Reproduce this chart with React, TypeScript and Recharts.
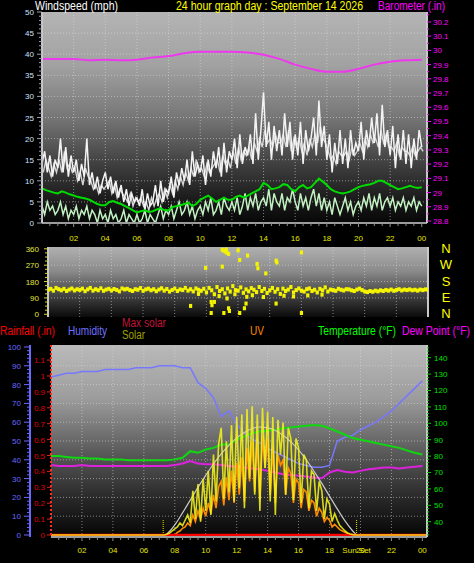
import React from 'react';
import {
  LineChart, Line, XAxis, YAxis, CartesianGrid, ReferenceLine,
  ScatterChart, Scatter,
} from 'recharts';

const FONT = '"Liberation Sans", Arial, Helvetica, sans-serif';

// ---------- top panel: wind (mph), 10-minute steps 00:00 .. 24:00
const gustMph = [
  14, 17, 12, 16, 11, 15, 13, 20, 12, 18, 11, 16, 12, 15, 10, 14, 11, 20,
  9, 12, 8, 11, 7, 10, 12, 8, 11, 7, 10, 6, 9, 5, 8, 4, 7, 5,
  6, 4, 8, 3, 7, 4, 5, 9, 4, 10, 5, 8, 7, 11, 6, 12, 9, 13,
  10, 15, 9, 17, 11, 14, 12, 16, 9, 15, 11, 17, 13, 18, 11, 19, 12, 17,
  15, 20, 13, 21, 14, 18, 16, 21, 14, 26, 15, 22, 31, 18, 24, 15, 23, 17,
  22, 16, 26, 18, 24, 15, 21, 16, 24, 14, 22, 17, 20, 25, 16, 29, 18, 23,
  15, 21, 12, 19, 14, 22, 14, 20, 13, 22, 16, 19, 17, 24, 15, 22, 18, 25,
  19, 26, 16, 28, 18, 22, 16, 23, 13, 21, 15, 22, 14, 21, 13, 20, 15, 22,
  18,
];
// second (10-minute high) white trace, 10-minute steps starting 00:05
const gustHighMph = [
  12, 15, 13, 11, 14, 12, 15, 12, 17, 13, 14, 12, 13, 10, 12, 9, 13, 11,
  10, 8, 9, 7, 9, 8, 9, 10, 7, 9, 6, 8, 7, 6, 5, 7, 4, 6,
  5, 6, 4, 5, 3, 6, 4, 6, 7, 5, 8, 6, 9, 7, 10, 8, 11, 9,
  12, 10, 13, 11, 15, 12, 13, 11, 14, 12, 13, 14, 15, 12, 16, 14, 15, 13,
  17, 14, 18, 15, 17, 16, 18, 15, 19, 17, 20, 18, 22, 19, 20, 18, 21, 19,
  19, 21, 18, 22, 17, 20, 18, 20, 17, 19, 16, 20, 18, 21, 19, 23, 20, 19,
  17, 15, 16, 14, 17, 16, 16, 17, 15, 18, 16, 17, 19, 17, 20, 18, 21, 19,
  20, 18, 22, 19, 21, 18, 18, 17, 19, 16, 18, 17, 17, 16, 18, 16, 17, 18,
  17,
];
const speedMph = [
  4, 2, 5, 3, 4, 2, 3, 5, 2, 4, 1, 3, 2, 4, 1, 3, 2, 4,
  1, 3, 2, 0, 3, 1, 2, 0, 3, 1, 2, 0, 1, 3, 0, 2, 1, 0,
  2, 0, 1, 3, 0, 2, 1, 0, 2, 4, 1, 3, 2, 4, 1, 3, 5, 2,
  3, 5, 2, 4, 1, 3, 4, 2, 5, 3, 6, 2, 3, 5, 2, 6, 4, 3,
  5, 3, 6, 2, 4, 7, 3, 6, 4, 7, 3, 5, 6, 4, 8, 3, 7, 5,
  4, 7, 3, 6, 5, 8, 5, 3, 7, 4, 6, 3, 6, 8, 4, 7, 3, 6,
  3, 5, 2, 6, 4, 2, 4, 6, 3, 5, 2, 4, 5, 3, 6, 4, 7, 3,
  6, 4, 7, 3, 5, 6, 4, 6, 3, 5, 4, 6, 3, 5, 4, 6, 3, 5,
  4,
];
// 15-minute steps
const avgMph = [
  8.2, 7.8, 7.5, 7.2, 7.0, 7.5, 7.2, 6.8, 6.5, 6.2, 6.0, 5.8,
  5.5, 5.0, 4.5, 4.2, 4.2, 5.0, 5.2, 4.8, 4.5, 4.0, 3.5, 3.0,
  2.5, 2.8, 3.0, 2.6, 2.8, 3.2, 3.5, 3.0, 3.0, 3.8, 4.0, 4.2,
  4.5, 4.8, 4.0, 4.5, 5.5, 6.0, 6.5, 5.8, 5.0, 5.5, 6.0, 5.5,
  5.5, 6.2, 6.5, 6.0, 6.5, 7.0, 7.5, 8.0, 9.5, 9.0, 8.0, 8.2,
  8.5, 9.2, 9.0, 8.0, 7.5, 8.5, 9.0, 8.2, 8.5, 9.5, 10.5, 9.8,
  9.0, 8.0, 7.5, 7.2, 7.0, 7.2, 7.5, 8.0, 8.5, 8.8, 9.0, 9.2,
  9.5, 10.0, 10.0, 9.5, 9.0, 8.5, 8.0, 8.2, 8.5, 8.8, 8.5, 8.3,
  8.5,
];
// hourly barometer (in)
const baroIn = [
  29.94, 29.94, 29.94, 29.93, 29.935, 29.93, 29.935, 29.95, 29.96, 29.98,
  29.99, 29.99, 29.99, 29.985, 29.97, 29.94, 29.9, 29.87, 29.85, 29.85,
  29.87, 29.9, 29.92, 29.93, 29.935,
];

// ---------- middle panel: wind direction (deg), 10-minute steps
const dirMainDeg = [
  135, 140, 130, 145, 138, 132, 140, 128, 136, 142, 131, 138,
  134, 141, 127, 137, 145, 130, 138, 132, 143, 129, 136, 140,
  131, 139, 134, 126, 142, 137, 140, 133, 128, 138, 135, 144,
  129, 137, 141, 132, 138, 127, 136, 143, 130, 139, 125, 134,
  141, 128, 137, 133, 145, 130, 138, 126, 142, 135, 129, 140,
  120, 145, 132, 110, 150, 128, 138, 115, 142, 125, 155, 133,
  130, 148, 118, 137, 126, 144, 135, 122, 150, 128, 140, 117,
  132, 145, 124, 138, 112, 141, 128, 136, 150, 120, 133, 142,
  130, 125, 138, 142, 128, 135, 120, 140, 132, 148, 125, 136,
  133, 129, 140, 135, 131, 138, 137, 132, 128, 136, 141, 133,
  125, 122, 128, 124, 130, 126, 132, 128, 134, 130, 136, 129,
  134, 138, 131, 136, 133, 137, 132, 135, 130, 136, 133, 137,
  135,
];
const dirOutHour = [
  11.0, 11.1, 11.2, 11.3, 11.4, 11.25, 12.0, 12.6, 12.1, 13.2, 13.25, 14.4,
  14.45, 16.0, 9.95, 11.0, 13.75, 9.0, 10.3, 10.5, 10.35, 11.4, 11.1, 11.45,
  10.3, 12.1, 12.4, 12.5, 14.4, 16.0, 12.55, 11.3, 10.8, 12.9, 13.6, 14.9,
  15.5, 11.8, 9.5, 16.4, 17.3,
];
const dirOutDeg = [
  355, 350, 345, 338, 332, 356, 352, 323, 299, 277, 253, 295,
  285, 340, 255, 262, 225, 46, 68, 68, 50, 33, 7, 18,
  7, 7, 33, 59, 59, 7, 96, 87, 100, 105, 95, 102,
  98, 110, 112, 104, 108,
];

// ---------- bottom panel, 30-minute steps 00:00 .. 24:00
const humidityPct = [
  84, 85, 86, 86, 87, 87, 87, 88, 88, 88,
  88, 89, 89, 89, 90, 90, 90, 89, 89, 81,
  78, 73, 63, 66, 59, 54, 51, 49, 46, 44,
  42, 40, 38, 37, 36, 36, 37, 50, 52, 53,
  56, 58, 60, 63, 66, 70, 74, 78, 82,
];
const temperatureF = [
  80, 80, 79.5, 79, 79, 78.5, 78.5, 78, 78, 78,
  77.5, 77.5, 77.5, 77.5, 77.5, 77.5, 78, 79, 83, 82,
  84, 85, 87, 87, 90, 92, 94, 95, 95.5, 96,
  97, 97.5, 98, 98.5, 99, 98.5, 97, 95, 93, 91,
  90, 89, 88, 87, 86, 85, 83.5, 82, 81,
];
const dewPointF = [
  74.5, 74, 74, 74, 74.5, 74, 74, 74, 74, 74,
  74, 74, 74, 74, 74, 74, 74.5, 75.5, 77, 75.5,
  75, 75, 74.5, 74, 73.5, 73, 72.5, 72, 71, 70,
  69, 68.5, 68, 67.5, 67, 66.5, 70, 71.5, 70.5, 70,
  71, 72, 72.5, 73, 73, 72.5, 73, 73.5, 74,
];
// solar radiation (W/m2), 10-minute steps from 07:20
const solarStartHour = 7 + 20 / 60;
const solarWm2 = [
  0, 5, 15, 30, 45, 60, 90, 70, 110, 150,
  90, 330, 120, 380, 100, 420, 180, 480, 150, 600,
  250, 680, 800, 270, 700, 320, 820, 250, 880, 350,
  900, 200, 940, 420, 960, 300, 900, 180, 950, 500,
  920, 250, 880, 150, 860, 600, 840, 300, 800, 720,
  260, 720, 650, 240, 600, 560, 200, 480, 450, 180,
  400, 330, 120, 270, 230, 100, 160, 110, 70, 50,
  30, 15, 8, 3, 0,
];
const maxSolarHour = [
  7.25, 7.5, 8, 8.5, 9, 9.5, 10, 10.5, 11, 11.5, 12, 12.5, 13, 13.5,
  14, 14.5, 15, 15.5, 16, 16.5, 17, 17.5, 18, 18.5, 19, 19.5, 19.75,
];
const maxSolarWm2 = [
  0, 10, 75, 165, 260, 355, 445, 530, 605, 670, 725, 765, 795, 806,
  800, 780, 745, 695, 635, 560, 475, 385, 290, 195, 105, 30, 0,
];
// UV index, 10-minute steps from 08:00
const uvStartHour = 8;
const uvIndex = [
  0, 0.2, 0.3, 0.5, 0.6, 0.9, 0.7, 1.5, 1.0, 1.8,
  1.2, 2.0, 1.4, 2.4, 1.6, 3.0, 2.0, 3.6, 4.0, 2.2,
  4.3, 2.6, 4.8, 2.4, 5.4, 3.0, 5.8, 2.5, 6.5, 4.0,
  7.0, 3.2, 7.2, 2.6, 7.4, 5.0, 7.2, 3.0, 6.6, 2.4,
  6.0, 5.2, 5.6, 3.0, 5.0, 4.6, 2.4, 4.2, 3.9, 2.0,
  3.4, 3.2, 1.8, 2.6, 2.4, 1.4, 2.0, 1.7, 1.0, 1.3,
  1.1, 0.6, 0.8, 0.6, 0.4, 0.3, 0.2, 0.1, 0,
];
const rainHour = [0, 24.3];
const rainIn = [0, 0];
const sunriseHour = 7.25;
const sunsetHour = 19.75;

// tick labels
const evenHours = [2, 4, 6, 8, 10, 12, 14, 16, 18, 20, 22, 24];
const hourLabels = ['02', '04', '06', '08', '10', '12', '14', '16', '18', '20', '22', '00'];
const compassDeg = [0, 90, 180, 270, 360];
const compassLabels = ['N', 'E', 'S', 'W', 'N'];

// ---------- series building
const gustData = gustMph.map((v, i) => ({ t: i / 6, v }));
const gustHighData = gustHighMph.map((v, i) => ({ t: i / 6 + 1 / 12, v }));
const speedData = speedMph.map((v, i) => ({ t: i / 6, v }));
const avgData = avgMph.map((v, i) => ({ t: i / 4, v }));
const baroData = baroIn.map((v, i) => ({ t: i, v }));
const dirData = dirMainDeg
  .map((d, i) => ({ t: i / 6, d }))
  .concat(dirOutHour.map((t, i) => ({ t, d: dirOutDeg[i] })));
const humData = humidityPct.map((v, i) => ({ t: i / 2, v }));
const tempData = temperatureF.map((v, i) => ({ t: i / 2, v }));
const dewData = dewPointF.map((v, i) => ({ t: i / 2, v }));
const solarData = [{ t: 0, v: 0 }]
  .concat(solarWm2.map((v, i) => ({ t: solarStartHour + i / 6, v })))
  .concat([{ t: 24.3, v: 0 }]);
const maxSolarData = maxSolarHour.map((t, i) => ({ t, v: maxSolarWm2[i] }));
const uvData = uvIndex.map((v, i) => ({ t: uvStartHour + i / 6, v }));
const rainData = rainHour.map((t, i) => ({ t, v: rainIn[i] }));

const range = (a: number, b: number, s: number) => {
  const out: number[] = [];
  for (let v = a; v <= b + 1e-9; v += s) out.push(Math.round(v * 1000) / 1000);
  return out;
};
const halfHours = range(0.5, 24, 0.5);
const bottomXTicks = halfHours.concat([sunsetHour]).sort((a, b) => a - b);
const gridHours = range(2, 22, 2);

const hourLabel = (h: number) => {
  const i = evenHours.indexOf(h);
  return i >= 0 ? hourLabels[i] : null;
};

const makeXTick = (labelDy: number, color: string) => (p: any) => {
  const { x, y, payload } = p;
  const v = payload.value as number;
  if (v === sunsetHour) {
    return (
      <text x={x} y={y + labelDy} textAnchor="middle" fill={color} fontSize={8} fontFamily={FONT}>
        Sun Set
      </text>
    );
  }
  const lab = hourLabel(v);
  return (
    <g>
      <line x1={x} x2={x} y1={y} y2={y + (lab ? 4 : 3)} stroke="#8c8c8c" />
      {lab && (
        <text x={x} y={y + labelDy} textAnchor="middle" fill={color} fontSize={8} fontFamily={FONT}>
          {lab}
        </text>
      )}
    </g>
  );
};

type TickOpts = {
  side: 'left' | 'right';
  isMajor: (v: number) => boolean;
  fmt: (v: number) => string;
  color: string;
  tickColor: string;
  major: number;
  minor: number;
  gap: number;
  fs?: number;
};
const makeYTick = (o: TickOpts) => (p: any) => {
  const { x, y, payload } = p;
  const v = payload.value as number;
  const maj = o.isMajor(v);
  const s = o.side === 'left' ? -1 : 1;
  const len = maj ? o.major : o.minor;
  return (
    <g>
      {len > 0 && <line x1={x} x2={x + s * len} y1={y} y2={y} stroke={o.tickColor} />}
      {maj && (
        <text
          x={x + s * o.gap}
          y={y + 3}
          textAnchor={o.side === 'left' ? 'end' : 'start'}
          fill={o.color}
          fontSize={o.fs ?? 8}
          fontFamily={FONT}
        >
          {o.fmt(v)}
        </text>
      )}
    </g>
  );
};

const near = (v: number, step: number) => Math.abs(v / step - Math.round(v / step)) < 1e-6;

const mphTick = makeYTick({
  side: 'left', isMajor: (v) => near(v, 5), fmt: (v) => String(v), color: '#cfe0ff',
  tickColor: '#9aa0b0', major: 5, minor: 3, gap: 8,
});
const baroTick = makeYTick({
  side: 'right', isMajor: (v) => near(v, 0.1), fmt: (v) => String(Number(v.toFixed(1))),
  color: '#ff00ff', tickColor: '#ff00ff', major: 4, minor: 2, gap: 6,
});
const dirTick = makeYTick({
  side: 'left', isMajor: (v) => near(v, 90), fmt: (v) => String(v), color: '#e4e440',
  tickColor: '#d8d840', major: 4, minor: 3, gap: 9,
});
const compassTick = (p: any) => {
  const { x, y, payload } = p;
  const i = compassDeg.indexOf(payload.value);
  return (
    <text x={x + 18} y={y + 4} textAnchor="middle" fill="#ffff00" fontSize={13} fontFamily={FONT}>
      {i >= 0 ? compassLabels[i] : ''}
    </text>
  );
};
const humTick = makeYTick({
  side: 'left', isMajor: (v) => near(v, 10), fmt: (v) => String(v), color: '#6868ff',
  tickColor: '#6a6aff', major: 6, minor: 3, gap: 9,
});
const rainTick = makeYTick({
  side: 'left', isMajor: (v) => near(v, 0.1),
  fmt: (v) => (near(v, 1) ? String(Math.round(v)) : v.toFixed(1)),
  color: '#e00000', tickColor: '#e02020', major: 4, minor: 0, gap: 6,
});
const tempTick = makeYTick({
  side: 'right', isMajor: (v) => near(v, 10) && v >= 40 && v <= 140, fmt: (v) => String(v),
  color: '#00e000', tickColor: '#00d000', major: 4, minor: 2, gap: 7,
});

const GRID = { stroke: '#dcdcdc', strokeDasharray: '1 2', strokeOpacity: 0.55 };

const Txt = ({ x, y, w, fill, fs = 12.5, children }: any) => (
  <text x={x} y={y} textLength={w} lengthAdjust="spacingAndGlyphs" fill={fill} fontSize={fs} fontFamily={FONT}>
    {children}
  </text>
);

export default function App() {
  return (
    <div style={{ position: 'fixed', left: 0, top: 0, width: 474, height: 563, background: '#000', overflow: 'hidden' }}>
      <svg width="0" height="0" style={{ position: 'absolute' }}>
        <defs>
          <linearGradient id="bgTop" x1="0" y1="0" x2="0" y2="1">
            <stop offset="0" stopColor="#b4b4b4" />
            <stop offset="0.25" stopColor="#a2a2a2" />
            <stop offset="0.5" stopColor="#767676" />
            <stop offset="0.72" stopColor="#404040" />
            <stop offset="0.88" stopColor="#1c1c1c" />
            <stop offset="1" stopColor="#070707" />
          </linearGradient>
          <linearGradient id="bgMid" x1="0" y1="0" x2="0" y2="1">
            <stop offset="0" stopColor="#b0b0b0" />
            <stop offset="0.35" stopColor="#8a8a8a" />
            <stop offset="0.65" stopColor="#4a4a4a" />
            <stop offset="1" stopColor="#0a0a0a" />
          </linearGradient>
          <linearGradient id="bgBot" x1="0" y1="0" x2="0" y2="1">
            <stop offset="0" stopColor="#bababa" />
            <stop offset="0.28" stopColor="#9c9c9c" />
            <stop offset="0.55" stopColor="#5c5c5c" />
            <stop offset="0.8" stopColor="#282828" />
            <stop offset="1" stopColor="#050505" />
          </linearGradient>
        </defs>
      </svg>

      {/* top: wind speed + barometer */}
      <div style={{ position: 'absolute', left: 0, top: 0 }}>
        <LineChart width={474} height={245} margin={{ top: 12, right: 0, bottom: 0, left: 0 }}>
          <CartesianGrid horizontal={false} vertical={false} fill="url(#bgTop)" stroke="none" />
          <XAxis
            dataKey="t" type="number" domain={[0, 24.33]} allowDataOverflow ticks={halfHours} interval={0}
            tick={makeXTick(18, '#e6e600')} tickLine={false} tickSize={0} tickMargin={0} height={22}
            axisLine={{ stroke: '#9c9c9c', strokeWidth: 2 }}
          />
          <YAxis
            type="number" domain={[0, 50]} allowDataOverflow ticks={range(0, 50, 1)} interval={0}
            tick={mphTick} tickLine={false} tickSize={0} tickMargin={0} width={42}
            axisLine={{ stroke: '#c8c8c8', strokeWidth: 2 }}
          />
          <YAxis
            yAxisId="baro" orientation="right" type="number" domain={[28.786, 30.27]} allowDataOverflow
            ticks={range(28.8, 30.25, 0.05)} interval={0} tick={baroTick} tickLine={false} tickSize={0}
            tickMargin={0} width={47} axisLine={{ stroke: '#c8c8c8', strokeWidth: 2 }}
          />
          {gridHours.map((h) => (
            <ReferenceLine key={'tx' + h} x={h} {...GRID} />
          ))}
          {range(5, 45, 5).map((v) => (
            <ReferenceLine key={'ty' + v} y={v} {...GRID} />
          ))}
          <Line data={gustHighData} dataKey="v" stroke="#d4d4d4" strokeWidth={1.4} dot={false} isAnimationActive={false} />
          <Line data={gustData} dataKey="v" stroke="#f4f4f4" strokeWidth={1.5} dot={false} isAnimationActive={false} />
          <Line data={speedData} dataKey="v" stroke="#c2f2c2" strokeWidth={1.5} dot={false} isAnimationActive={false} />
          <Line data={avgData} dataKey="v" stroke="#00dc00" strokeWidth={2} dot={false} isAnimationActive={false} />
          <Line yAxisId="baro" data={baroData} dataKey="v" stroke="#ee38ee" strokeWidth={2} dot={false} type="monotone" isAnimationActive={false} />
        </LineChart>
      </div>

      {/* middle: wind direction */}
      <div style={{ position: 'absolute', left: 0, top: 240 }}>
        <ScatterChart width={474} height={80} margin={{ top: 7, right: 0, bottom: 3, left: 0 }}>
          <CartesianGrid horizontal={false} vertical={false} fill="url(#bgMid)" stroke="none" />
          <XAxis dataKey="t" type="number" domain={[0, 24]} allowDataOverflow hide />
          <YAxis
            dataKey="d" type="number" domain={[-15, 370]} allowDataOverflow ticks={range(0, 360, 22.5)} interval={0}
            tick={dirTick} tickLine={false} tickSize={0} tickMargin={0} width={48}
            axisLine={{ stroke: '#c8c8c8', strokeWidth: 2 }}
          />
          <YAxis
            yAxisId="nsew" orientation="right" dataKey="d" type="number" domain={[-15, 370]} allowDataOverflow
            ticks={compassDeg} interval={0} tick={compassTick} tickLine={false} tickSize={0} tickMargin={0}
            width={46} axisLine={{ stroke: '#c8c8c8', strokeWidth: 2 }}
          />
          {gridHours.map((h) => (
            <ReferenceLine key={'mx' + h} x={h} {...GRID} />
          ))}
          {[90, 180, 270].map((v) => (
            <ReferenceLine key={'my' + v} y={v} {...GRID} />
          ))}
          <Scatter
            data={dirData}
            fill="#ffff00"
            isAnimationActive={false}
            shape={(p: any) => <rect x={p.cx - 1.5} y={p.cy - 2} width={3.2} height={4} fill="#f4f400" />}
          />
        </ScatterChart>
      </div>

      {/* bottom: rain, humidity, solar, UV, temperature, dew point */}
      <div style={{ position: 'absolute', left: 0, top: 340 }}>
        <LineChart width={474} height={223} margin={{ top: 5, right: 0, bottom: 0, left: 0 }}>
          <CartesianGrid horizontal={false} vertical={false} fill="url(#bgBot)" stroke="none" />
          <XAxis
            dataKey="t" type="number" domain={[0, 24.3]} allowDataOverflow ticks={bottomXTicks} interval={0}
            tick={makeXTick(16, '#e6e600')} tickLine={false} tickSize={0} tickMargin={0} height={26}
            axisLine={{ stroke: '#a0a0a0', strokeWidth: 2 }}
          />
          <YAxis
            type="number" domain={[-0.01258, 1.195]} allowDataOverflow ticks={range(0, 1.1, 0.1)}
            interval={0} tick={rainTick} tickLine={false} tickSize={0} tickMargin={0} width={21}
            axisLine={{ stroke: '#ff2a2a', strokeWidth: 2, strokeDasharray: '2 2' }}
          />
          <YAxis
            yAxisId="hum" type="number" domain={[-1.064, 101.06]} allowDataOverflow ticks={range(0, 100, 2)} interval={0}
            tick={humTick} tickLine={false} tickSize={0} tickMargin={0} width={30}
            axisLine={{ stroke: '#6a6aff', strokeWidth: 2 }}
          />
          <YAxis
            yAxisId="temp" orientation="right" type="number" domain={[30.67, 147.74]} allowDataOverflow
            ticks={range(32, 146, 2)} interval={0} tick={tempTick} tickLine={false} tickSize={0} tickMargin={0}
            width={47} axisLine={{ stroke: '#c8c8c8', strokeWidth: 2 }}
          />
          <YAxis yAxisId="solar" hide type="number" domain={[-14.93, 1417.9]} allowDataOverflow />
          <YAxis yAxisId="uv" hide type="number" domain={[-0.149, 14.18]} allowDataOverflow />
          {gridHours.map((h) => (
            <ReferenceLine key={'bx' + h} yAxisId="hum" x={h} {...GRID} />
          ))}
          {range(10, 90, 10).map((v) => (
            <ReferenceLine key={'by' + v} yAxisId="hum" y={v} {...GRID} />
          ))}
          <ReferenceLine
            yAxisId="hum"
            segment={[{ x: sunriseHour, y: 0 }, { x: sunriseHour, y: 8 }]}
            stroke="#e8e800" strokeDasharray="1 1"
          />
          <ReferenceLine
            yAxisId="hum"
            segment={[{ x: sunsetHour, y: 0 }, { x: sunsetHour, y: 8 }]}
            stroke="#e8e800" strokeDasharray="1 1"
          />
          <Line yAxisId="hum" data={humData} dataKey="v" stroke="#7878ff" strokeWidth={1.5} dot={false} isAnimationActive={false} />
          <Line yAxisId="temp" data={tempData} dataKey="v" stroke="#10d810" strokeWidth={2} dot={false} isAnimationActive={false} />
          <Line yAxisId="temp" data={dewData} dataKey="v" stroke="#dd22dd" strokeWidth={2} dot={false} isAnimationActive={false} />
          <Line yAxisId="solar" data={maxSolarData} dataKey="v" stroke="#c8c8c8" strokeWidth={1.2} dot={false} type="monotone" isAnimationActive={false} />
          <Line yAxisId="uv" data={uvData} dataKey="v" stroke="#ff8a00" strokeWidth={1.6} dot={false} isAnimationActive={false} />
          <Line data={rainData} dataKey="v" stroke="#ff0000" strokeWidth={2.5} dot={false} isAnimationActive={false} />
          <Line yAxisId="solar" data={solarData} dataKey="v" stroke="#f2f21a" strokeOpacity={0.88} strokeWidth={1.6} dot={false} isAnimationActive={false} />
        </LineChart>
      </div>

      {/* titles and legend */}
      <svg width={474} height={563} style={{ position: 'absolute', left: 0, top: 0, pointerEvents: 'none' }}>
        <Txt x={35} y={10} w={83} fill="#ffffff">Windspeed (mph)</Txt>
        <Txt x={176} y={10} w={187} fill="#ffff00">24 hour graph day : September 14 2026</Txt>
        <Txt x={378} y={10} w={67} fill="#ff00ff">Barometer (.in)</Txt>
        <Txt x={0} y={335} w={55} fill="#ff0000">Rainfall (.in)</Txt>
        <Txt x={68} y={335} w={39} fill="#7070ff">Humidity</Txt>
        <Txt x={122} y={327} w={44} fill="#c0143a">Max solar</Txt>
        <Txt x={122} y={339} w={23} fill="#a0a000">Solar</Txt>
        <Txt x={250} y={335} w={14} fill="#ff8800">UV</Txt>
        <Txt x={318} y={335} w={78} fill="#00ff00">Temperature (°F)</Txt>
        <Txt x={402} y={335} w={68} fill="#ff00ff">Dew Point (°F)</Txt>
      </svg>
    </div>
  );
}
